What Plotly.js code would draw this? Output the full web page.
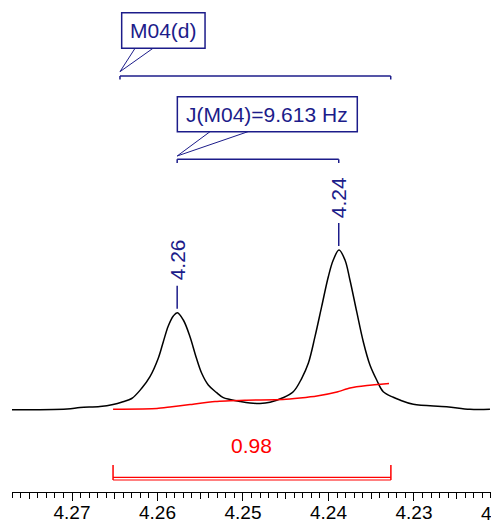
<!DOCTYPE html>
<html>
<head>
<meta charset="utf-8">
<script src="https://cdn.plot.ly/plotly-3.0.1.min.js"></script>
<style>html,body{margin:0;padding:0;background:#fff;}#chart{width:491px;height:524px;}</style>
</head>
<body>
<div id="chart"></div>
<script>
// ---- spectrum (chemical shift in ppm, intensity in arbitrary units) ----
const ppm = [4.27702, 4.27058, 4.26906, 4.26673, 4.26520, 4.26404, 4.26302, 4.26185, 4.26088, 4.25991,
  4.25932, 4.25874, 4.25815, 4.25768, 4.25698, 4.25620, 4.25550, 4.25483, 4.25406, 4.25308,
  4.25230, 4.25152, 4.25035, 4.24918, 4.24801, 4.24684, 4.24547, 4.24412, 4.24313, 4.24236,
  4.24158, 4.24080, 4.24002, 4.23944, 4.23877, 4.23807, 4.23749, 4.23670, 4.23593, 4.23515,
  4.23436, 4.23359, 4.23242, 4.23164, 4.23008, 4.22618, 4.22345, 4.22111];
const intensity = [0.2, 1.0, 2.5, 3.5, 5.5, 8.3, 11.5, 21.7, 33.3, 51.7,
  68.3, 84, 94, 97.3, 90, 73.3, 53.3, 36.7, 25, 17.3,
  12.3, 10.5, 8.5, 7, 6.5, 7.7, 11.7, 18.3, 31.7, 46.7,
  73.3, 103.3, 133.3, 150, 160, 150, 130, 98.3, 68.3, 45,
  30, 18.3, 12.7, 10, 5.7, 3.3, 0.7, 0.7];

// ---- integral curve ----
const integralPpm = [4.26520, 4.26006, 4.25854, 4.25620, 4.25327, 4.24977, 4.24532, 4.24333, 4.24135,
  4.23901, 4.23749, 4.23550, 4.23292];
const integralVal = [0.7, 1.5, 3, 5.5, 8.5, 9.8, 10.5, 12, 14, 18, 22, 24.5, 26.5];
const integralRange = [4.2652, 4.2327];
const integralLabel = '0.98';

// ---- peaks ----
const peakPpm = [4.2577, 4.2388];
const peakLabels = ['4.26', '4.24'];

// ---- multiplet ----
const multipletRange = [4.26439, 4.23272];
const multipletLabel = 'M04(d)';
const couplingLabel = 'J(M04)=9.613 Hz';

// ---- axis ticks ----
const tickVals = [4.27, 4.26, 4.25, 4.24, 4.23, 4.22];
const tickText = ['4.27', '4.26', '4.25', '4.24', '4.23', '4.22'];

const NAVY = '#1c1c8a';
const RED = '#ff0000';
const FONT = 'Liberation Sans, Arial, sans-serif';
const FS = 21;
const TICKFS = 19;

function heightAt(p) {
  let best = 0, bd = 1e9;
  for (let i = 0; i < ppm.length; i++) {
    const d = Math.abs(ppm[i] - p);
    if (d < bd) { bd = d; best = intensity[i]; }
  }
  return best;
}

const traces = [
  { x: ppm, y: intensity, type: 'scatter', mode: 'lines',
    line: { color: '#000', width: 1.5, shape: 'spline', smoothing: 1 }, hoverinfo: 'skip' },
  { x: integralPpm, y: integralVal, type: 'scatter', mode: 'lines',
    line: { color: RED, width: 1.5, shape: 'spline', smoothing: 0.6 }, hoverinfo: 'skip' },
  { x: [ppm[0], ppm[ppm.length - 1]], y: [null, null], xaxis: 'x2', type: 'scatter', mode: 'lines',
    hoverinfo: 'skip', showlegend: false }
];

const shapes = [];
const annotations = [];
function seg(x0, y0, x1, y1, color, w) {
  shapes.push({ type: 'line', xref: 'x', yref: 'y', x0, y0, x1, y1, line: { color, width: w } });
}

// peak markers
peakPpm.forEach((p, i) => {
  const h = heightAt(p);
  seg(p, h + 4, p, h + 27, NAVY, 1.5);
  annotations.push({ x: p, y: h + 31, xref: 'x', yref: 'y', text: peakLabels[i], textangle: -90,
    showarrow: false, xanchor: 'center', yanchor: 'bottom', borderpad: 0,
    font: { family: FONT, size: FS, color: NAVY } });
});

// multiplet bracket + box
const mL = multipletRange[0], mR = multipletRange[1];
seg(mL, 334, mR, 334, NAVY, 1.5);
seg(mL, 334, mL, 330.5, NAVY, 1.5);
seg(mR, 334, mR, 330.5, NAVY, 1.5);
shapes.push({ type: 'rect', xref: 'x', yref: 'y', x0: 4.26419, x1: 4.25444, y0: 361.7, y1: 397.3,
  line: { color: NAVY, width: 1.5 }, fillcolor: 'rgba(0,0,0,0)' });
seg(4.26263, 361.7, mL, 338.3, NAVY, 1);
seg(4.26053, 361.7, mL, 338.3, NAVY, 1);
annotations.push({ x: 4.25932, y: 379.5, xref: 'x', yref: 'y', text: multipletLabel, showarrow: false,
  xanchor: 'center', yanchor: 'middle', font: { family: FONT, size: FS, color: NAVY } });

// coupling bracket + box
const jL = peakPpm[0], jR = peakPpm[1];
seg(jL, 250.7, jR, 250.7, NAVY, 1.5);
seg(jL, 250.7, jL, 247, NAVY, 1.5);
seg(jR, 250.7, jR, 247, NAVY, 1.5);
shapes.push({ type: 'rect', xref: 'x', yref: 'y', x0: 4.25768, x1: 4.23663, y0: 278.3, y1: 313.3,
  line: { color: NAVY, width: 1.5 }, fillcolor: 'rgba(0,0,0,0)' });
seg(4.25386, 278.3, jL, 254, NAVY, 1);
seg(4.24942, 278.3, jL, 254, NAVY, 1);
annotations.push({ x: 4.24716, y: 295.8, xref: 'x', yref: 'y', text: couplingLabel, showarrow: false,
  xanchor: 'center', yanchor: 'middle', font: { family: FONT, size: FS, color: NAVY } });

// integral bracket
const iL = integralRange[0], iR = integralRange[1];
seg(iL, -55, iL, -70, RED, 1.5);
seg(iR, -55, iR, -70, RED, 1.5);
seg(iL, -67.3, iR, -67.3, RED, 1.2);
seg(iL, -70, iR, -70, RED, 1.2);
annotations.push({ x: (iL + iR) / 2, y: -35, xref: 'x', yref: 'y', text: integralLabel, showarrow: false,
  xanchor: 'center', yanchor: 'middle', font: { family: FONT, size: FS, color: RED } });

const xRange = [4.27702, 4.22099];

// tick labels that fall just past the right edge (drawn partly cut, as in the original)
tickVals.forEach((v, i) => {
  if (v < xRange[1]) {
    annotations.push({ x: (xRange[0] - v) / (xRange[0] - xRange[1]), y: 0, xref: 'paper', yref: 'paper',
      text: tickText[i], showarrow: false, xanchor: 'center', yanchor: 'middle', yshift: -21,
      font: { family: FONT, size: TICKFS, color: '#000' } });
  }
});

const layout = {
  width: 491, height: 524,
  margin: { l: 12, r: 0, t: 0, b: 32, pad: 0 },
  paper_bgcolor: '#fff', plot_bgcolor: '#fff',
  showlegend: false,
  xaxis: {
    range: xRange, showgrid: false, zeroline: false,
    showline: true, linecolor: '#000', linewidth: 1,
    ticks: 'outside', ticklen: 8, tickwidth: 1, tickcolor: '#000',
    tickmode: 'array', tickvals: tickVals, ticktext: tickText,
    ticklabelstandoff: -5,
    tickfont: { family: FONT, size: TICKFS, color: '#000' },
    minor: { ticks: 'outside', dtick: 0.001, tick0: 4.22, ticklen: 4.5, tickwidth: 1, tickcolor: '#000', showgrid: false }
  },
  xaxis2: {
    range: xRange, overlaying: 'x', anchor: 'y', side: 'bottom',
    showgrid: false, zeroline: false, showline: false,
    ticks: 'outside', ticklen: 6, tickwidth: 1, tickcolor: '#000',
    dtick: 0.005, tick0: 4.22, showticklabels: false
  },
  yaxis: { range: [-82, 410], visible: false, fixedrange: true },
  shapes, annotations
};

Plotly.newPlot('chart', traces, layout, { displayModeBar: false, staticPlot: true });
</script>
</body>
</html>
